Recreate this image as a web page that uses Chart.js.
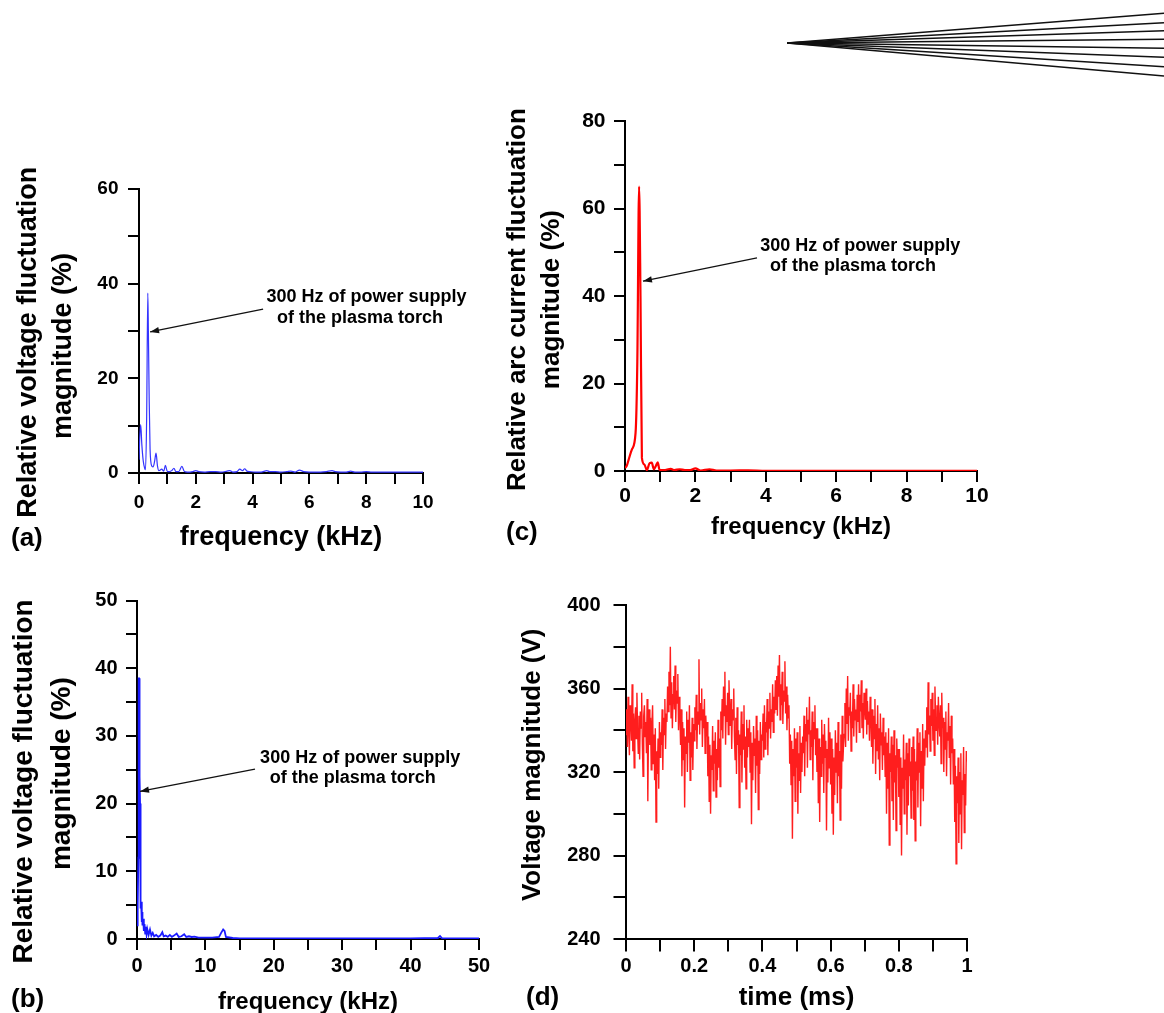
<!DOCTYPE html>
<html><head><meta charset="utf-8">
<script src="https://cdn.jsdelivr.net/npm/chart.js@4.4.1/dist/chart.umd.min.js"></script>
<style>
html,body{margin:0;padding:0;background:#fff;width:1164px;height:1013px;overflow:hidden;position:relative}
canvas{position:absolute}
</style></head><body>
<canvas id="fan" width="377" height="90" style="left:787px;top:0px"></canvas>
<canvas id="pa" width="470" height="455" style="left:0px;top:110px"></canvas>
<canvas id="pc" width="520" height="460" style="left:480px;top:95px"></canvas>
<canvas id="pb" width="500" height="450" style="left:0px;top:580px"></canvas>
<canvas id="pd" width="520" height="450" style="left:500px;top:580px"></canvas>
<script>
// ---------- data ----------
// (a) voltage spectrum 0-10 kHz
const freqA = [0,0.03,0.06,0.1,0.15,0.2,0.23,0.27,0.31,0.33,0.36,0.39,0.45,0.5,0.55,0.6,0.65,0.7,0.8,0.87,0.93,1.0,1.08,1.15,1.23,1.3,1.4,1.51,1.6,1.7,1.8,1.9,2.0,2.1,2.3,2.5,2.7,2.9,3.1,3.2,3.3,3.45,3.55,3.65,3.72,3.8,3.9,4.1,4.3,4.5,4.6,4.8,5.0,5.2,5.35,5.5,5.65,5.8,6.0,6.2,6.4,6.6,6.8,6.9,7.1,7.3,7.45,7.6,7.8,8.0,8.2,8.5,8.8,9.1,9.4,9.7,10];
const magA  = [2.8,8,10.2,6,2.5,1,0.7,12,38,30,15,5,1.5,1.3,2.5,4.2,1.5,0.5,0.8,0.4,1.6,0.3,0.3,0.5,1.0,0.3,0.3,1.4,0.3,0.2,0.2,0.3,0.5,0.3,0.2,0.3,0.3,0.2,0.4,0.5,0.2,0.3,0.8,0.5,0.9,0.4,0.3,0.2,0.2,0.5,0.3,0.3,0.2,0.3,0.4,0.2,0.6,0.3,0.2,0.2,0.2,0.3,0.5,0.3,0.2,0.2,0.4,0.2,0.2,0.3,0.2,0.2,0.2,0.2,0.2,0.2,0.2];
// (b) voltage spectrum 0-50 kHz
const freqB = [0,0.1,0.2,0.25,0.3,0.35,0.4,0.45,0.5,0.55,0.6,0.7,0.75,0.8,0.9,1.0,1.1,1.2,1.3,1.4,1.5,1.7,1.9,2.1,2.3,2.5,2.8,3.1,3.4,3.7,3.9,4.2,4.5,4.8,5.1,5.4,5.8,6.1,6.5,6.9,7.2,7.6,8.0,8.4,9,10,11,12,12.3,12.6,12.8,13.0,14,15,20,25,30,35,40,44,44.3,44.6,47,50];
const magB  = [2,5,12,38.5,38.5,30,24,20,6,4.5,5.5,2.5,4,2,3,1.2,2.2,0.8,1.8,0.7,1.5,0.6,1.4,0.5,0.9,0.4,0.6,0.3,0.5,1.0,0.4,0.5,0.3,0.6,0.3,0.5,0.8,0.3,0.4,0.7,0.3,0.4,0.3,0.35,0.2,0.2,0.2,0.3,0.9,1.4,1.2,0.3,0.15,0.1,0.1,0.1,0.1,0.1,0.1,0.15,0.45,0.1,0.1,0.1];
// (c) arc current spectrum 0-10 kHz
const freqC = [0,0.05,0.1,0.2,0.3,0.35,0.4,0.44,0.48,0.55,0.62,0.7,0.76,0.82,0.88,0.93,0.98,1.1,1.3,1.4,1.55,1.7,1.85,2.0,2.15,2.4,2.6,3.0,3.5,4,5,6,7,8,9,10];
const magC  = [0.7,1.2,2.5,5,8.7,25,65,40,3,1.5,0.2,1.8,1.9,0.4,1.2,2.0,0.3,0.2,0.5,0.2,0.4,0.2,0.2,0.6,0.1,0.4,0.1,0.1,0.15,0.05,0.05,0.05,0.05,0.05,0.05,0.05];
// (d) voltage time series, 0-1 ms
const sampleStepMs = 0.002;
const voltageD = [
 338,350,332,356,341,328,352,346,335,362,330,348,322,344,351,336,358,340,329,347,
 326,349,341,358,333,318,347,352,337,344,329,355,306,340,350,333,346,321,343,352,
 324,338,316,341,296,330,319,336,312,344,327,339,333,350,321,346,338,355,331,348,
 344,361,349,368,352,380,346,363,341,357,366,350,371,344,359,353,367,340,356,348,
 333,350,318,344,326,341,303,337,329,349,320,345,334,352,316,339,327,346,321,343,
 335,351,340,357,331,349,343,374,338,353,345,360,332,350,341,355,329,347,337,344,
 318,337,306,333,300,328,321,342,311,335,324,339,308,331,316,345,322,336,313,349,
 340,355,336,361,347,368,333,352,344,358,338,364,349,342,355,331,350,345,360,337,
 326,346,319,351,333,340,303,338,328,349,315,343,331,352,322,337,312,345,327,341,
 332,345,320,339,295,334,316,342,328,336,310,347,323,340,302,335,319,344,326,338,
 335,348,327,352,331,344,339,355,328,349,341,358,336,350,344,362,339,356,348,364,
 350,366,347,371,356,376,345,362,352,368,343,359,354,373,348,361,340,357,346,352,
 324,338,314,335,288,331,318,341,306,336,322,339,300,329,316,342,310,334,320,337,
 329,347,318,343,335,351,322,345,338,356,326,340,332,349,316,344,336,352,328,341,
 320,341,305,336,296,332,318,345,324,338,310,343,327,335,292,331,315,346,322,339,
 314,336,300,331,290,327,309,340,320,334,305,344,318,330,297,338,312,347,325,333,
 338,353,332,360,343,366,335,351,347,358,330,349,341,362,337,355,345,350,334,357,
 344,362,339,357,349,364,341,353,336,358,351,345,360,338,354,343,349,335,356,347,
 332,350,324,347,336,355,319,343,330,352,326,341,316,348,333,339,321,346,328,337,
 318,339,300,334,312,341,285,329,320,337,306,333,297,340,315,328,292,336,322,331,
 308,331,295,327,280,322,312,338,300,326,316,334,290,329,304,336,318,325,298,332,
 311,337,297,331,287,325,316,341,303,334,320,339,294,330,312,343,306,336,323,340,
 332,351,327,363,338,347,330,355,342,358,335,350,328,361,345,340,352,333,356,344,
 337,352,324,358,341,346,320,344,331,349,318,339,335,353,327,342,314,347,329,336,
 314,331,296,323,276,318,305,327,286,320,300,329,283,316,309,332,291,319,304,330,
 325];
// decorative fan of lines (top right): end offsets relative to apex
const fanOffsets = [-29.7,-20.3,-12.3,-3.7,5.3,14.3,23.7,33];

// ---------- helpers ----------
const FF = "'Liberation Sans', Arial, Helvetica, sans-serif";
function pts(xs, ys){ return xs.map((x,i)=>({x:x, y:ys[i]})); }

const annotPlugin = {
  id: 'annot',
  afterDraw(chart, args, o){
    const ctx = chart.ctx, xs = chart.scales.x, ys = chart.scales.y;
    ctx.save();
    ctx.fillStyle = '#000';
    ctx.textBaseline = 'middle';
    ctx.textAlign = 'left';
    if (o.lines){
      ctx.font = 'bold 18px ' + FF;
      o.lines.forEach(l => ctx.fillText(l.text, xs.getPixelForValue(l.x), ys.getPixelForValue(l.y)));
    }
    if (o.arrow){
      const a = o.arrow;
      const x1 = xs.getPixelForValue(a.x1), y1 = ys.getPixelForValue(a.y1);
      const x2 = xs.getPixelForValue(a.x2), y2 = ys.getPixelForValue(a.y2);
      ctx.strokeStyle = '#111'; ctx.lineWidth = 1.3;
      ctx.beginPath(); ctx.moveTo(x1,y1); ctx.lineTo(x2,y2); ctx.stroke();
      const ang = Math.atan2(y2-y1, x2-x1), L = 9, W = 3.2;
      ctx.beginPath();
      ctx.moveTo(x2,y2);
      ctx.lineTo(x2 - L*Math.cos(ang) + W*Math.sin(ang), y2 - L*Math.sin(ang) - W*Math.cos(ang));
      ctx.lineTo(x2 - L*Math.cos(ang) - W*Math.sin(ang), y2 - L*Math.sin(ang) + W*Math.cos(ang));
      ctx.closePath(); ctx.fillStyle = '#111'; ctx.fill();
    }
    if (o.panel){
      ctx.fillStyle = '#000';
      ctx.font = 'bold 26px ' + FF;
      ctx.fillText(o.panel.text, o.panel.px, o.panel.py);
    }
    ctx.restore();
  }
};

function axis(o){
  return {
    type: 'linear', position: o.pos, min: o.min, max: o.max,
    afterFit: s => { if (o.pos === 'left') s.width = o.size; else s.height = o.size; },
    ticks: {
      stepSize: o.step, autoSkip: false, maxRotation: 0, minRotation: 0,
      color: '#000', padding: o.tickPad,
      font: {family: FF, weight: 'bold', size: o.tickSize},
      callback: o.cb
    },
    grid: {display: true, drawOnChartArea: false, drawTicks: true, tickLength: o.tickLen || 11,
           tickWidth: 2, tickColor: '#000', color: '#000', lineWidth: 2},
    border: {display: true, color: '#000', width: 2},
    title: {display: true, text: o.title, color: '#000',
            font: {family: FF, weight: 'bold', size: o.titleSize, lineHeight: o.titleLH},
            padding: o.titlePad}
  };
}

function panel(id, cfg){
  new Chart(document.getElementById(id), {
    type: 'line',
    data: {datasets: [{data: cfg.data, borderColor: cfg.color, borderWidth: cfg.lw,
      pointRadius: 0, fill: false, tension: cfg.tension || 0, cubicInterpolationMode: cfg.cubic || 'default'}]},
    options: {
      responsive: false, animation: false, devicePixelRatio: 1,
      layout: {padding: cfg.pad},
      plugins: {legend: {display: false}, tooltip: {enabled: false}, annot: cfg.annot},
      scales: {x: axis(cfg.x), y: axis(cfg.y)}
    },
    plugins: [annotPlugin]
  });
}

const evenLabel = v => (Math.round(v) % 2 === 0 ? String(Math.round(v)) : '');

// (a)
panel('pa', {
  data: pts(freqA, magA), color: '#3434ff', lw: 1.2, tension: 0.4, cubic: 'monotone',
  pad: {left: 0, top: 79, right: 47, bottom: 0},
  x: {pos: 'bottom', min: 0, max: 10, step: 1, size: 92, tickSize: 19, tickPad: 7,
      cb: evenLabel, title: 'frequency (kHz)', titleSize: 27, titleLH: 1.2, titlePad: {top: 0, bottom: 11.5}},
  y: {pos: 'left', min: 0, max: 60, step: 10, size: 139, tickSize: 19, tickPad: 9.5,
      cb: v => (v % 20 === 0 ? String(v) : ''),
      title: ['Relative voltage fluctuation   ', 'magnitude (%)    '], titleSize: 27, titleLH: 1.3, titlePad: {top: 11, bottom: 0}},
  annot: {
    lines: [{text: '300 Hz of power supply', x: 4.49, y: 37.2}, {text: 'of the plasma torch', x: 4.86, y: 32.7}],
    arrow: {x1: 4.37, y1: 34.6, x2: 0.39, y2: 29.8},
    panel: {text: '(a)', px: 11, py: 429}
  }
});

// (c)
panel('pc', {
  data: pts(freqC, magC), color: '#ff0000', lw: 2.2, tension: 0.3, cubic: 'monotone',
  pad: {left: 0, top: 26, right: 23, bottom: 0},
  x: {pos: 'bottom', min: 0, max: 10, step: 1, size: 84, tickSize: 21, tickPad: 2,
      cb: evenLabel, title: 'frequency (kHz)', titleSize: 24, titleLH: 1.2, titlePad: {top: 0, bottom: 13.6}},
  y: {pos: 'left', min: 0, max: 80, step: 10, size: 145, tickSize: 21, tickPad: 8.5,
      cb: v => (v % 20 === 0 ? String(v) : ''),
      title: ['Relative arc current fluctuation ', 'magnitude (%) '], titleSize: 26, titleLH: 1.31, titlePad: {top: 21, bottom: 0}},
  annot: {
    lines: [{text: '300 Hz of power supply', x: 3.84, y: 51.4}, {text: 'of the plasma torch', x: 4.12, y: 46.9}],
    arrow: {x1: 3.75, y1: 48.7, x2: 0.51, y2: 43.4},
    panel: {text: '(c)', px: 26, py: 438}
  }
});

// (b)
panel('pb', {
  data: pts(freqB, magB), color: '#1a1aff', lw: 1.8, tension: 0,
  pad: {left: 0, top: 18, right: 21, bottom: 0},
  x: {pos: 'bottom', min: 0, max: 50, step: 5, size: 91, tickSize: 20, tickPad: 4,
      cb: v => (v % 10 === 0 ? String(v) : ''), title: 'frequency (kHz)', titleSize: 24, titleLH: 1.2, titlePad: {top: 0, bottom: 13.6}},
  y: {pos: 'left', min: 0, max: 50, step: 5, size: 137, tickSize: 20, tickPad: 8.5,
      cb: v => (v % 10 === 0 ? String(v) : ''),
      title: ['Relative voltage fluctuation   ', 'magnitude (%) '], titleSize: 28, titleLH: 1.36, titlePad: {top: 5, bottom: 0}},
  annot: {
    lines: [{text: '300 Hz of power supply', x: 18.0, y: 26.7}, {text: 'of the plasma torch', x: 19.4, y: 23.75}],
    arrow: {x1: 17.25, y1: 25.1, x2: 0.44, y2: 21.8},
    panel: {text: '(b)', px: 11, py: 420}
  }
});

// (d)
panel('pd', {
  data: voltageD.map((v, i) => ({x: i * sampleStepMs, y: v})), color: 'rgb(255,30,30)', lw: 1.4, tension: 0,
  pad: {left: 0, top: 19, right: 53, bottom: 0},
  x: {pos: 'bottom', min: 0, max: 1, step: 0.1, size: 91, tickSize: 20, tickPad: 3, tickLen: 12.5,
      cb: v => { const r = Math.round(v * 10); return r % 2 === 0 ? String(r / 10) : ''; },
      title: 'time (ms)', titleSize: 26, titleLH: 1.2, titlePad: {top: 0, bottom: 16.4}},
  y: {pos: 'left', min: 240, max: 400, step: 20, size: 126, tickSize: 20, tickPad: 13, tickLen: 12.5,
      cb: v => ((v - 240) % 40 === 0 ? String(v) : ''),
      title: '  Voltage magnitude (V)', titleSize: 26, titleLH: 1.2, titlePad: {top: 17.4, bottom: 0}},
  annot: {panel: {text: '(d)', px: 26, py: 418}}
});

// decorative fan of lines
new Chart(document.getElementById('fan'), {
  type: 'scatter',
  data: {datasets: fanOffsets.map(s => ({data: [{x: 0, y: 0}, {x: 1, y: s}], showLine: true,
    borderColor: '#111', borderWidth: 1.5, pointRadius: 0}))},
  options: {
    responsive: false, animation: false, devicePixelRatio: 1,
    layout: {padding: 0},
    plugins: {legend: {display: false}, tooltip: {enabled: false}},
    scales: {x: {display: false, min: 0, max: 1}, y: {display: false, min: -43, max: 47, reverse: true}}
  }
});
</script>
</body></html>
